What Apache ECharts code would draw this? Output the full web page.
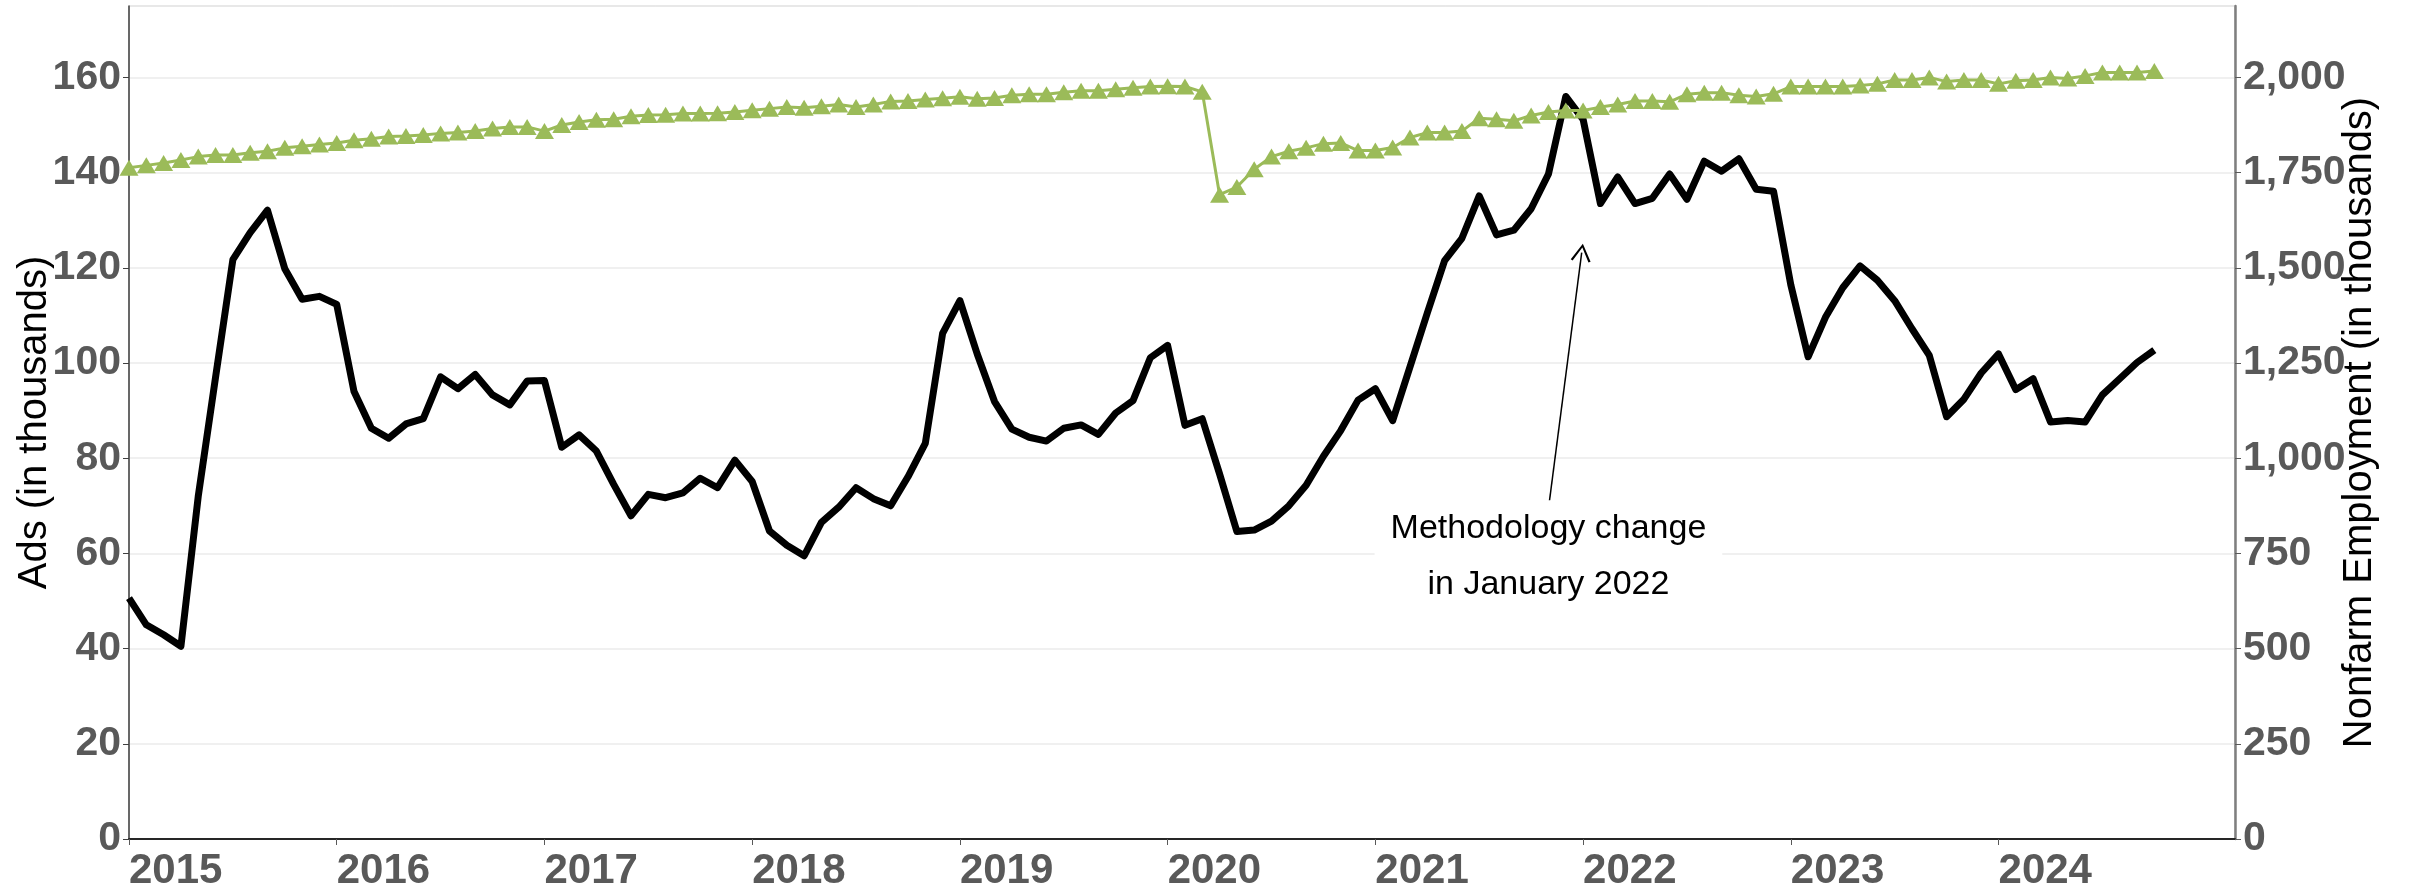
<!DOCTYPE html>
<html>
<head>
<meta charset="utf-8">
<title>Ads vs Nonfarm Employment</title>
<script src="https://cdn.jsdelivr.net/npm/echarts@6/dist/echarts.min.js"></script>
<style>
  html, body { margin: 0; padding: 0; background: #fff; }
  #chart { width: 2410px; height: 894px; }
</style>
</head>
<body>
<div id="chart"></div>
<script>
// monthly data, January 2015 to October 2024
const startYear = 2015;
const yearLabels = ['2015', '2016', '2017', '2018', '2019', '2020', '2021', '2022', '2023', '2024'];

// Ads (in thousands), left axis
const adsValues = [
  50.6, 45.0, 42.9, 40.5, 72.0, 97.0, 121.7, 127.4, 132.1, 119.8, 113.4, 114.0,
  112.3, 94.0, 86.3, 84.2, 87.2, 88.3, 97.1, 94.6, 97.6, 93.3, 91.2, 96.2,
  96.3, 82.3, 84.9, 81.5, 74.5, 67.9, 72.4, 71.7, 72.7, 75.8, 73.8, 79.6,
  75.1, 64.7, 61.7, 59.5, 66.5, 69.7, 73.8, 71.5, 70.0, 76.1, 83.1, 106.2,
  113.1, 101.9, 91.9, 86.1, 84.4, 83.6, 86.3, 87.0, 85.0, 89.5, 92.1, 101.1,
  103.7, 86.9, 88.3, 76.7, 64.6, 64.9, 66.8, 70.0, 74.3, 80.4, 85.8, 92.2,
  94.6, 87.9, 99.2, 110.5, 121.5, 126.2, 135.1, 126.9, 127.9, 132.4, 139.7, 156.0,
  151.2, 133.5, 139.1, 133.5, 134.6, 139.7, 134.4, 142.4, 140.3, 142.9, 136.5, 136.1,
  116.4, 101.3, 109.6, 115.8, 120.4, 117.4, 113.1, 107.2, 101.6, 88.7, 92.4, 97.9,
  101.9, 94.4, 96.7, 87.6, 87.9, 87.6, 93.3, 96.7, 100.1, 102.7
];

// Nonfarm employment (in thousands), right axis
const employmentValues = [
  1763, 1769, 1775, 1783, 1792, 1796, 1796, 1802, 1806, 1815, 1819, 1824,
  1828, 1835, 1839, 1845, 1846, 1849, 1853, 1855, 1859, 1866, 1870, 1870,
  1859, 1875, 1883, 1889, 1890, 1898, 1901, 1902, 1905, 1905, 1906, 1909,
  1914, 1918, 1922, 1920, 1924, 1929, 1922, 1929, 1937, 1938, 1942, 1945,
  1949, 1944, 1946, 1953, 1956, 1956, 1961, 1965, 1965, 1969, 1973, 1976,
  1977, 1976, 1962, 1692, 1712, 1759, 1792, 1806, 1815, 1826, 1828, 1808,
  1808, 1816, 1842, 1855, 1855, 1859, 1893, 1890, 1886, 1900, 1909, 1913,
  1913, 1922, 1929, 1938, 1938, 1936, 1956, 1960, 1960, 1953, 1950, 1957,
  1976, 1976, 1976, 1976, 1979, 1983, 1993, 1993, 2000, 1989, 1993, 1993,
  1983, 1991, 1993, 2000, 1997, 2004, 2013, 2013, 2013, 2017
];

const yearTicks = yearLabels.map((y, k) => k * 12);
const fontFamily = '"Liberation Sans", Arial, sans-serif';

const chart = echarts.init(document.getElementById('chart'));

const option = {
  animation: false,
  backgroundColor: '#fff',
  grid: {
    left: 129, right: 175, top: 6, bottom: 55,
    outerBoundsMode: 'none',
    containLabel: false,
    show: true, borderColor: '#bfbfbf', borderWidth: 1
  },
  xAxis: {
    type: 'value',
    min: 0,
    max: 121.66,
    axisLine: { show: true, onZero: false, lineStyle: { color: '#262626', width: 2 } },
    axisTick: { show: true, length: 6, customValues: yearTicks, lineStyle: { color: '#595959', width: 1 } },
    axisLabel: {
      customValues: yearTicks,
      formatter: v => String(startYear + Math.round(v / 12)),
      align: 'left',
      margin: 11,
      fontSize: 42,
      fontWeight: 'bold',
      fontFamily: fontFamily,
      color: '#595959'
    },
    splitLine: { show: false }
  },
  yAxis: [
    {
      type: 'value',
      position: 'left',
      min: 0,
      max: 175,
      interval: 20,
      name: 'Ads (in thousands)',
      nameLocation: 'middle',
      nameRotate: 90,
      nameGap: 74,
      nameMoveOverlap: false,
      nameTextStyle: { fontSize: 40, color: '#000', fontFamily: fontFamily },
      axisLine: { show: true, lineStyle: { color: '#404040', width: 1.5 } },
      axisTick: { show: true, length: 6, lineStyle: { color: '#404040' } },
      axisLabel: {
        showMaxLabel: false,
        margin: 8,
        fontSize: 41,
        fontWeight: 'bold',
        fontFamily: fontFamily,
        color: '#595959'
      },
      splitLine: { show: true, lineStyle: { color: '#ebebeb', width: 1.5 } }
    },
    {
      type: 'value',
      position: 'right',
      min: 0,
      max: 2187.5,
      interval: 250,
      name: 'Nonfarm Employment (in thousands)',
      nameLocation: 'middle',
      nameRotate: 90,
      nameGap: 105,
      nameMoveOverlap: false,
      nameTextStyle: { fontSize: 40, color: '#000', fontFamily: fontFamily },
      axisLine: { show: true, lineStyle: { color: '#7f7f7f', width: 2.5 } },
      axisTick: { show: true, length: 6, lineStyle: { color: '#595959' } },
      axisLabel: {
        showMaxLabel: false,
        margin: 8,
        fontSize: 41,
        fontWeight: 'bold',
        fontFamily: fontFamily,
        color: '#595959',
        formatter: v => v.toLocaleString('en-US')
      },
      splitLine: { show: false }
    }
  ],
  series: [
    {
      name: 'Ads',
      type: 'line',
      yAxisIndex: 0,
      data: adsValues.map((v, i) => [i, v]),
      symbol: 'none',
      lineStyle: { color: '#000', width: 7, join: 'round' },
      z: 2,
      markLine: {
        silent: true,
        symbol: ['none', 'path://M0,0 L10,17 L8,18 L0,4 L-8,18 L-10,17 Z'],
        symbolSize: [20, 18],
        lineStyle: { color: '#000', width: 1.5, type: 'solid' },
        label: { show: false },
        data: [[{ coord: [82.02, 70] }, { coord: [83.92, 123.2] }]]
      },
      markPoint: {
        silent: true,
        symbol: 'rect',
        symbolSize: 0,
        label: {
          show: true,
          position: 'inside',
          formatter: 'Methodology change\nin January 2022',
          color: '#000',
          fontSize: 34,
          lineHeight: 56,
          fontFamily: fontFamily,
          backgroundColor: '#fff',
          padding: [0, 16]
        },
        data: [{ coord: [82, 59.4] }]
      }
    },
    {
      name: 'Nonfarm Employment',
      type: 'line',
      yAxisIndex: 1,
      data: employmentValues.map((v, i) => [i, v]),
      symbol: 'triangle',
      symbolSize: [19, 16],
      showAllSymbol: true,
      itemStyle: { color: '#9bbb59' },
      lineStyle: { color: '#9bbb59', width: 3 },
      z: 3
    }
  ]
};

chart.setOption(option);
</script>
</body>
</html>
